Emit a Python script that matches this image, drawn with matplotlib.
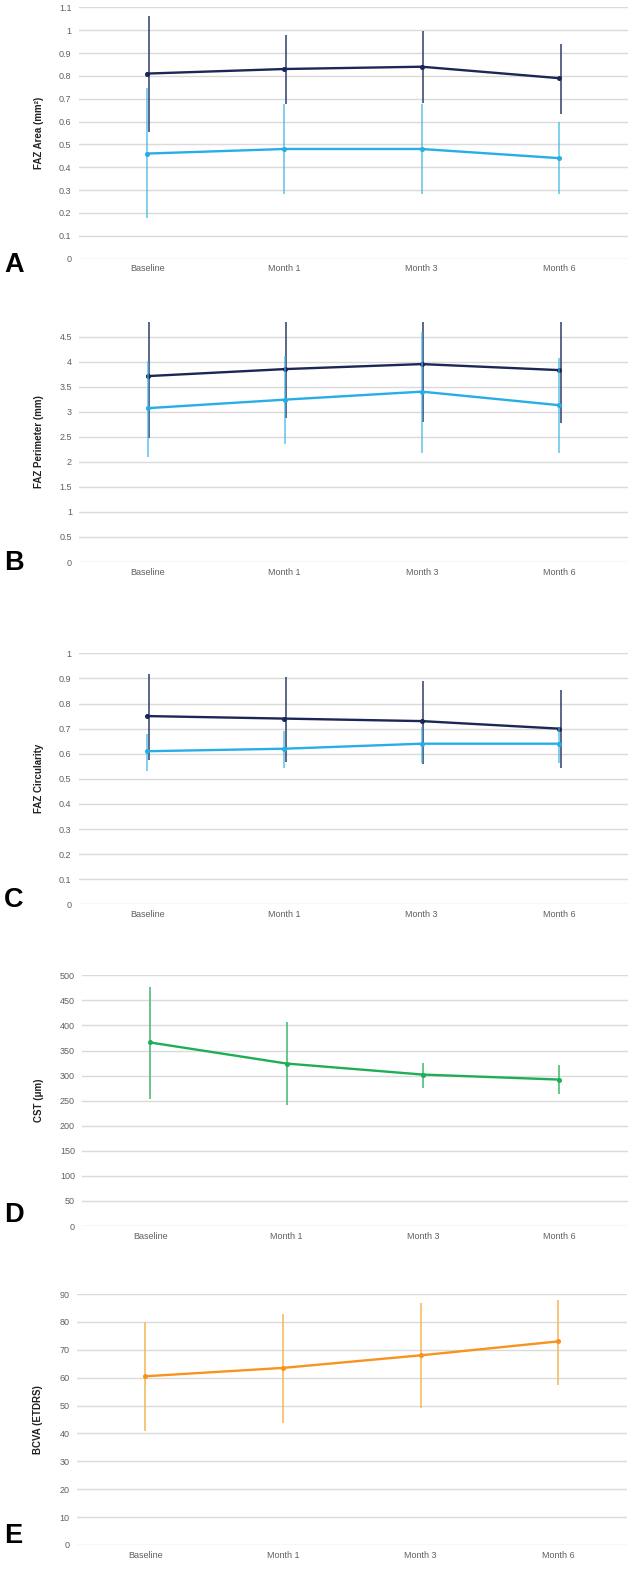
import matplotlib
matplotlib.use("Agg")
import matplotlib.pyplot as plt
import matplotlib.transforms as mtransforms
import numpy as np

plt.rcParams['font.family'] = ['Liberation Sans', 'DejaVu Sans']

timepoints = ["Baseline", "Month 1", "Month 3", "Month 6"]

# Panel A: FAZ Area
a_dark_mean = [0.81, 0.83, 0.84, 0.79]
a_dark_low = [0.555, 0.675, 0.68, 0.635]
a_dark_high = [1.06, 0.98, 0.995, 0.94]
a_light_mean = [0.46, 0.48, 0.48, 0.44]
a_light_low = [0.177, 0.282, 0.282, 0.282]
a_light_high = [0.746, 0.676, 0.677, 0.60]

# Panel B: FAZ Perimeter
b_dark_mean = [3.71, 3.85, 3.95, 3.83]
b_dark_low = [2.48, 2.88, 2.80, 2.77]
b_dark_high = [4.94, 4.82, 5.10, 4.89]
b_light_mean = [3.07, 3.24, 3.40, 3.13]
b_light_low = [2.10, 2.35, 2.18, 2.18]
b_light_high = [4.02, 4.12, 4.60, 4.07]

# Panel C: FAZ Circularity
c_dark_mean = [0.75, 0.74, 0.73, 0.70]
c_dark_low = [0.575, 0.566, 0.559, 0.545]
c_dark_high = [0.918, 0.907, 0.891, 0.854]
c_light_mean = [0.61, 0.62, 0.64, 0.64]
c_light_low = [0.533, 0.542, 0.562, 0.562]
c_light_high = [0.68, 0.692, 0.708, 0.708]

# Panel D: CST
d_mean = [366, 324, 302, 292]
d_low = [253, 241, 275, 263]
d_high = [476, 406, 326, 322]

# Panel E: BCVA
e_mean = [60.5, 63.5, 68.0, 73.0]
e_low = [41.0, 43.6, 49.0, 57.4]
e_high = [80.1, 82.9, 86.7, 87.7]

W, H = 636, 1577
fig = plt.figure(figsize=(W / 100, H / 100), dpi=100)

def make_ax(left, top, right, bottom):
    return fig.add_axes([left / W, 1 - bottom / H, (right - left) / W, (bottom - top) / H])

DARK = "#1b2756"
DARK_ERR = "#2b3a68"
LIGHT = "#27aee6"
LIGHT_ERR = "#3cb4e4"
GREEN = "#1fae57"
GREEN_ERR = "#4fbb78"
ORANGE = "#f7931e"
ORANGE_ERR = "#f3bb62"

def style(ax, ylim, ticks, ticklabels, ylabel, labelx):
    ax.set_xlim(-0.5, 3.5)
    ax.set_ylim(*ylim)
    ax.set_yticks(ticks)
    ax.set_yticklabels(ticklabels)
    ax.set_xticks(range(len(timepoints)))
    ax.set_xticklabels(timepoints)
    for s in ax.spines.values():
        s.set_visible(False)
    ax.tick_params(axis='both', length=0, labelsize=6.5, labelcolor="#606060")
    ax.tick_params(axis='y', pad=5)
    ax.tick_params(axis='x', pad=4)
    ax.grid(axis='y', color="#dadada", linewidth=1.0)
    ax.set_axisbelow(True)
    ax.set_ylabel(ylabel, fontsize=7, color="#222222", fontweight='bold')
    ax.yaxis.set_label_coords(labelx, 0.5)

def series(ax, mean, low, high, color, ecolor, dx_pts=0.0, ealpha=1.0, z=3):
    x = np.arange(len(mean))
    mean = np.asarray(mean, dtype=float)
    yerr = [mean - np.asarray(low), np.asarray(high) - mean]
    trans = ax.transData + mtransforms.ScaledTranslation(dx_pts / 72, 0, fig.dpi_scale_trans)
    ax.errorbar(x, mean, yerr=yerr, fmt='none', ecolor=ecolor, elinewidth=1.2,
                capsize=0, alpha=ealpha, zorder=z, transform=trans)
    ax.plot(x, mean, color=color, linewidth=1.7, marker='o', markersize=2.6,
            zorder=z + 1)

# Panel A
axA = make_ax(78.5, 7.3, 627.5, 258.7)
style(axA, (0, 1.1), np.round(np.arange(0, 1.11, 0.1), 1),
      ["0", "0.1", "0.2", "0.3", "0.4", "0.5", "0.6", "0.7", "0.8", "0.9", "1", "1.1"],
      "FAZ Area (mm²)", -0.063)
series(axA, a_dark_mean, a_dark_low, a_dark_high, DARK, DARK_ERR, dx_pts=1.2, ealpha=0.9, z=3)
series(axA, a_light_mean, a_light_low, a_light_high, LIGHT, LIGHT_ERR, ealpha=0.75, z=4)

# Panel B
axB = make_ax(79, 322, 627.5, 562)
style(axB, (0, 4.79), np.arange(0, 4.51, 0.5),
      ["0", "0.5", "1", "1.5", "2", "2.5", "3", "3.5", "4", "4.5"],
      "FAZ Perimeter (mm)", -0.063)
series(axB, b_dark_mean, b_dark_low, b_dark_high, DARK, DARK_ERR, dx_pts=1.2, ealpha=0.9, z=3)
series(axB, b_light_mean, b_light_low, b_light_high, LIGHT, LIGHT_ERR, ealpha=0.75, z=4)

# Panel C
axC = make_ax(78.5, 653.3, 627.5, 904.4)
style(axC, (0, 1.0), np.round(np.arange(0, 1.01, 0.1), 1),
      ["0", "0.1", "0.2", "0.3", "0.4", "0.5", "0.6", "0.7", "0.8", "0.9", "1"],
      "FAZ Circularity", -0.063)
series(axC, c_dark_mean, c_dark_low, c_dark_high, DARK, DARK_ERR, dx_pts=1.2, ealpha=0.9, z=3)
series(axC, c_light_mean, c_light_low, c_light_high, LIGHT, LIGHT_ERR, ealpha=0.75, z=4)

# Panel D
axD = make_ax(82, 975.3, 627.5, 1226)
style(axD, (0, 500), np.arange(0, 501, 50),
      [str(v) for v in range(0, 501, 50)], "CST (μm)", -0.07)
series(axD, d_mean, d_low, d_high, GREEN, GREEN_ERR)

# Panel E
axE = make_ax(76.5, 1294, 627, 1545)
style(axE, (0, 90), np.arange(0, 91, 10),
      [str(v) for v in range(0, 91, 10)], "BCVA (ETDRS)", -0.06)
series(axE, e_mean, e_low, e_high, ORANGE, ORANGE_ERR)

# Panel letters
for letter, ypx in [("A", 265), ("B", 563), ("C", 900), ("D", 1215), ("E", 1536)]:
    fig.text(4 / W, 1 - ypx / H, letter, fontsize=19.5, fontweight='bold',
             color="black", ha='left', va='center')

fig.savefig("out.png", dpi=100, facecolor="white")
